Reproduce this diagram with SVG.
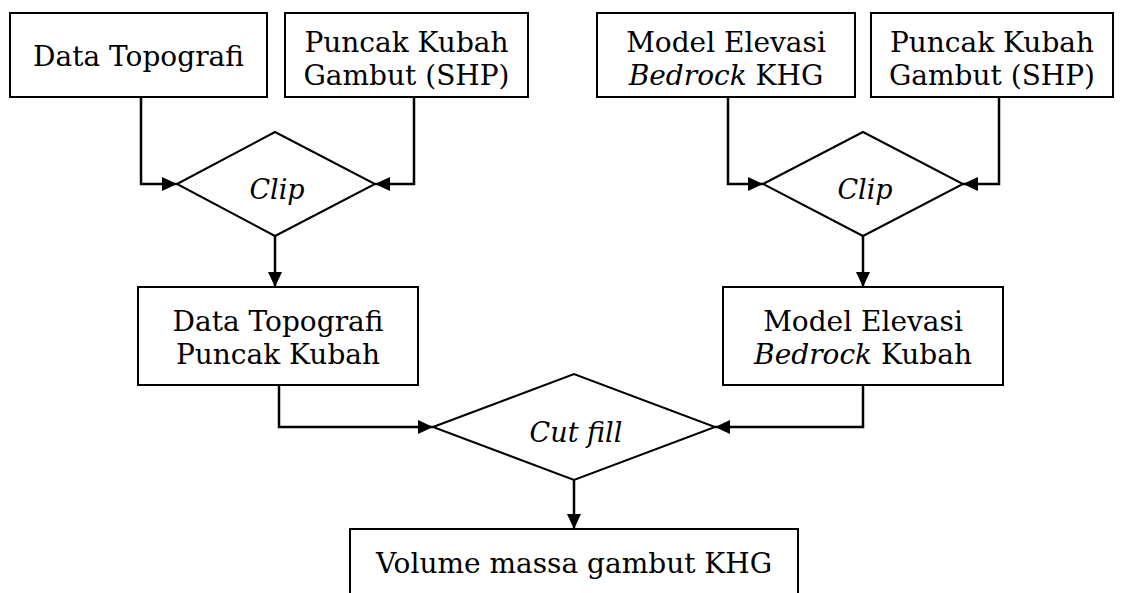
<svg xmlns="http://www.w3.org/2000/svg" width="1123" height="593" viewBox="0 0 1123 593">
<style>
.box{fill:#fff;stroke:#000;stroke-width:2}
.dia{fill:#fff;stroke:#000;stroke-width:2}
.t{font-family:"DejaVu Serif","Liberation Serif",serif;font-size:28px;fill:#000;text-anchor:middle}
.i{font-style:italic}
.d{font-size:27px}
.c{fill:none;stroke:#000;stroke-width:2.5;marker-end:url(#ah)}
</style>
<defs>
<marker id="ah" viewBox="0 0 15 14" refX="15" refY="7" markerWidth="15" markerHeight="14" markerUnits="userSpaceOnUse" orient="auto">
<path d="M0,0 L15,7 L0,14 Z" fill="#000"/>
</marker>
</defs>
<rect width="1123" height="593" fill="#fff"/>
<g id="n1"><rect class="box" x="10" y="13" width="257" height="84"/><text class="t" x="138.5" y="66">Data Topografi</text></g>
<g id="n2"><rect class="box" x="285" y="13" width="243" height="84"/><text class="t" x="406.5" y="52">Puncak Kubah</text><text class="t" x="406.5" y="85">Gambut (SHP)</text></g>
<g id="n3"><rect class="box" x="597" y="13" width="258" height="84"/><text class="t" x="726" y="52">Model Elevasi</text><text class="t" x="726" y="85"><tspan class="i">Bedrock</tspan> KHG</text></g>
<g id="n4"><rect class="box" x="871" y="13" width="242" height="84"/><text class="t" x="992" y="52">Puncak Kubah</text><text class="t" x="992" y="85">Gambut (SHP)</text></g>
<g id="d1"><polygon class="dia" points="177,184 275,132 375,184 275,236"/><text class="t i d" x="277" y="199">Clip</text></g>
<g id="d2"><polygon class="dia" points="763,184 863,132 963,184 863,236"/><text class="t i d" x="865" y="199">Clip</text></g>
<g id="n5"><rect class="box" x="138" y="287" width="280" height="98"/><text class="t" x="278" y="331">Data Topografi</text><text class="t" x="278" y="364">Puncak Kubah</text></g>
<g id="n6"><rect class="box" x="723" y="287" width="280" height="98"/><text class="t" x="863" y="331">Model Elevasi</text><text class="t" x="863" y="364"><tspan class="i">Bedrock</tspan> Kubah</text></g>
<g id="d3"><polygon class="dia" points="433,427 574,374 715,427 574,480"/><text class="t i d" x="576" y="442">Cut fill</text></g>
<g id="n7"><rect class="box" x="350" y="529" width="448" height="100"/><text class="t" x="574" y="573">Volume massa gambut KHG</text></g>
<g id="connectors">
<path class="c" d="M141,97 V184 H177"/>
<path class="c" d="M414,97 V184 H375"/>
<path class="c" d="M728,97 V184 H763"/>
<path class="c" d="M999,97 V184 H963"/>
<path class="c" d="M275,236 V287"/>
<path class="c" d="M863,236 V287"/>
<path class="c" d="M279,385 V427 H433"/>
<path class="c" d="M863,385 V427 H715"/>
<path class="c" d="M574,480 V529"/>
</g>
</svg>
